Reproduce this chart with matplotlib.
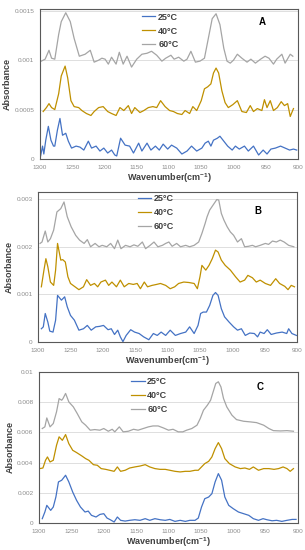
import matplotlib
matplotlib.use("Agg")
import matplotlib.pyplot as plt
from matplotlib.ticker import FuncFormatter

plt.rcParams['font.family'] = ['Liberation Sans', 'DejaVu Sans']
plt.rcParams['mathtext.default'] = 'regular'

# ---- Panel A ----
a25_wn = [1299, 1296, 1294, 1291, 1287, 1283, 1279, 1277, 1273, 1269, 1265, 1260, 1256, 1251, 1244,
          1238, 1232, 1225, 1220, 1213, 1207, 1201, 1195, 1189, 1184, 1181, 1175, 1168, 1161, 1155,
          1147, 1142, 1134, 1128, 1121, 1115, 1109, 1102, 1096, 1088, 1080, 1072, 1065, 1057, 1049,
          1044, 1039, 1035, 1031, 1025, 1021, 1015, 1009, 1002, 997, 991, 983, 977, 969, 961,
          954, 948, 942, 935, 927, 920, 913, 907, 902]
a25_abs = [0.3e-4, 1.3e-4, 0.5e-4, 1.9e-4, 3.3e-4, 1.9e-4, 1.3e-4, 1.3e-4, 2.9e-4, 4.1e-4, 2.4e-4, 2.6e-4, 1.8e-4, 1.1e-4, 1.3e-4,
           1.2e-4, 0.9e-4, 1.8e-4, 1.1e-4, 1.3e-4, 0.8e-4, 1.1e-4, 0.6e-4, 0.9e-4, 0.4e-4, 0.3e-4, 2.1e-4, 1.4e-4, 1.3e-4, 0.6e-4,
           1.6e-4, 0.8e-4, 1.6e-4, 0.9e-4, 1.3e-4, 0.9e-4, 1.5e-4, 1.0e-4, 1.4e-4, 1.1e-4, 0.5e-4, 0.8e-4, 1.3e-4, 0.8e-4, 1.1e-4,
           1.6e-4, 1.8e-4, 1.3e-4, 1.9e-4, 2.1e-4, 2.3e-4, 1.8e-4, 1.3e-4, 0.9e-4, 1.3e-4, 1.0e-4, 1.3e-4, 0.8e-4, 1.3e-4, 0.4e-4,
           0.9e-4, 0.5e-4, 1.0e-4, 1.1e-4, 1.3e-4, 1.1e-4, 0.9e-4, 1.0e-4, 0.9e-4]
a40_wn = [1295, 1290, 1286, 1282, 1277, 1271, 1267, 1261, 1257, 1252, 1247, 1240, 1235, 1228, 1221,
          1216, 1209, 1202, 1195, 1189, 1182, 1176, 1170, 1163, 1158, 1153, 1145, 1139, 1132, 1125,
          1119, 1113, 1106, 1099, 1093, 1087, 1080, 1075, 1068, 1063, 1057, 1050, 1045, 1040, 1035,
          1031, 1027, 1023, 1018, 1013, 1008, 1001, 994, 987, 980, 974, 969, 963, 956, 952,
          948, 943, 938, 932, 926, 921, 916, 912, 907]
a40_abs = [4.8e-4, 5.2e-4, 5.6e-4, 5.2e-4, 5.0e-4, 6.6e-4, 8.4e-4, 9.4e-4, 8.2e-4, 5.9e-4, 5.3e-4, 5.2e-4, 4.9e-4, 4.6e-4, 4.4e-4,
           4.8e-4, 5.2e-4, 5.3e-4, 4.8e-4, 4.6e-4, 4.4e-4, 5.2e-4, 4.9e-4, 5.4e-4, 4.6e-4, 5.2e-4, 4.7e-4, 4.9e-4, 5.2e-4, 5.3e-4,
           5.2e-4, 5.9e-4, 5.3e-4, 4.9e-4, 4.8e-4, 4.6e-4, 4.5e-4, 4.9e-4, 4.6e-4, 5.3e-4, 4.9e-4, 5.9e-4, 7.1e-4, 7.3e-4, 7.6e-4,
           8.7e-4, 9.2e-4, 8.7e-4, 6.9e-4, 5.7e-4, 5.2e-4, 5.5e-4, 5.9e-4, 4.8e-4, 4.7e-4, 5.4e-4, 4.8e-4, 5.1e-4, 4.9e-4, 6.0e-4,
           5.2e-4, 5.9e-4, 4.9e-4, 5.2e-4, 5.8e-4, 5.4e-4, 5.6e-4, 4.3e-4, 5.1e-4]
a60_wn = [1298, 1292, 1286, 1282, 1277, 1271, 1267, 1260, 1253, 1247, 1239, 1230, 1222, 1216, 1209,
          1204, 1199, 1194, 1189, 1182, 1177, 1171, 1165, 1158, 1150, 1142, 1134, 1127, 1119, 1111,
          1105, 1097, 1092, 1085, 1077, 1072, 1066, 1059, 1052, 1045, 1039, 1033, 1027, 1021, 1015,
          1010, 1005, 1000, 994, 987, 979, 973, 966, 958, 951, 945, 938, 933, 925, 920,
          912, 908]
a60_abs = [9.9e-4, 10.1e-4, 11.0e-4, 10.2e-4, 10.1e-4, 12.6e-4, 13.9e-4, 14.8e-4, 13.9e-4, 12.2e-4, 10.4e-4, 10.6e-4, 11.0e-4, 9.8e-4, 10.0e-4,
           10.2e-4, 10.1e-4, 9.6e-4, 10.3e-4, 9.6e-4, 10.8e-4, 9.6e-4, 10.4e-4, 9.3e-4, 10.1e-4, 10.6e-4, 10.7e-4, 10.9e-4, 10.5e-4, 9.9e-4,
           10.2e-4, 10.5e-4, 10.1e-4, 10.3e-4, 9.9e-4, 10.1e-4, 10.9e-4, 9.8e-4, 9.9e-4, 10.2e-4, 12.2e-4, 14.2e-4, 14.7e-4, 13.6e-4, 11.2e-4,
           9.9e-4, 9.7e-4, 10.0e-4, 10.6e-4, 10.2e-4, 9.8e-4, 10.1e-4, 9.7e-4, 10.1e-4, 10.4e-4, 10.2e-4, 9.6e-4, 10.1e-4, 10.6e-4, 9.7e-4,
           10.6e-4, 10.4e-4]

# ---- Panel B ----
b25_wn = [1295, 1292, 1289, 1285, 1282, 1277, 1273, 1270, 1264, 1259, 1255, 1250, 1244, 1237, 1230,
          1224, 1218, 1211, 1205, 1199, 1192, 1187, 1182, 1177, 1173, 1169, 1164, 1157, 1151, 1144,
          1137, 1129, 1122, 1116, 1110, 1103, 1096, 1088, 1080, 1072, 1066, 1059, 1053, 1049, 1045,
          1040, 1035, 1030, 1026, 1022, 1017, 1012, 1005, 998, 992, 986, 980, 973, 966, 961,
          957, 951, 946, 940, 932, 923, 916, 913, 908, 901]
b25_abs = [0.28e-3, 0.32e-3, 0.60e-3, 0.42e-3, 0.23e-3, 0.21e-3, 0.46e-3, 0.98e-3, 0.88e-3, 0.95e-3, 0.74e-3, 0.56e-3, 0.46e-3, 0.25e-3, 0.28e-3,
           0.35e-3, 0.25e-3, 0.32e-3, 0.33e-3, 0.35e-3, 0.26e-3, 0.28e-3, 0.16e-3, 0.25e-3, 0.11e-3, 0.01e-3, 0.14e-3, 0.26e-3, 0.21e-3, 0.18e-3,
           0.11e-3, 0.05e-3, 0.18e-3, 0.14e-3, 0.21e-3, 0.14e-3, 0.25e-3, 0.14e-3, 0.18e-3, 0.21e-3, 0.32e-3, 0.18e-3, 0.35e-3, 0.60e-3, 0.63e-3,
           0.63e-3, 0.77e-3, 0.98e-3, 1.04e-3, 0.98e-3, 0.70e-3, 0.53e-3, 0.42e-3, 0.32e-3, 0.25e-3, 0.28e-3, 0.14e-3, 0.19e-3, 0.18e-3, 0.11e-3,
           0.21e-3, 0.18e-3, 0.26e-3, 0.16e-3, 0.19e-3, 0.21e-3, 0.18e-3, 0.28e-3, 0.18e-3, 0.14e-3]
b40_wn = [1295, 1291, 1288, 1285, 1281, 1276, 1273, 1270, 1265, 1262, 1258, 1254, 1250, 1244, 1237,
          1230, 1225, 1219, 1213, 1208, 1203, 1196, 1191, 1186, 1179, 1173, 1167, 1160, 1153, 1147,
          1142, 1136, 1131, 1124, 1117, 1111, 1103, 1096, 1089, 1083, 1075, 1067, 1059, 1054, 1050,
          1047, 1041, 1036, 1031, 1026, 1022, 1017, 1011, 1003, 995, 988, 981, 976, 969, 963,
          957, 949, 941, 933, 927, 919, 914, 909, 904]
b40_abs = [1.16e-3, 1.51e-3, 1.75e-3, 1.58e-3, 1.26e-3, 1.19e-3, 1.51e-3, 2.07e-3, 1.72e-3, 1.73e-3, 1.68e-3, 1.37e-3, 1.23e-3, 1.17e-3, 1.10e-3,
           1.16e-3, 1.31e-3, 1.19e-3, 1.23e-3, 1.16e-3, 1.26e-3, 1.30e-3, 1.19e-3, 1.26e-3, 1.16e-3, 1.30e-3, 1.16e-3, 1.23e-3, 1.21e-3, 1.23e-3,
           1.12e-3, 1.26e-3, 1.16e-3, 1.19e-3, 1.21e-3, 1.23e-3, 1.19e-3, 1.12e-3, 1.16e-3, 1.23e-3, 1.26e-3, 1.25e-3, 1.23e-3, 1.12e-3, 1.37e-3,
           1.61e-3, 1.51e-3, 1.61e-3, 1.75e-3, 1.93e-3, 1.89e-3, 1.72e-3, 1.61e-3, 1.51e-3, 1.37e-3, 1.26e-3, 1.30e-3, 1.40e-3, 1.35e-3, 1.26e-3,
           1.30e-3, 1.23e-3, 1.19e-3, 1.33e-3, 1.23e-3, 1.17e-3, 1.10e-3, 1.19e-3, 1.16e-3]
b60_wn = [1297, 1294, 1291, 1289, 1285, 1281, 1276, 1271, 1265, 1260, 1255, 1249, 1242, 1236, 1229,
          1224, 1219, 1212, 1206, 1201, 1194, 1188, 1182, 1177, 1172, 1165, 1158, 1152, 1146, 1139,
          1134, 1127, 1121, 1115, 1108, 1103, 1098, 1093, 1086, 1080, 1072, 1066, 1059, 1052, 1047,
          1042, 1039, 1035, 1030, 1024, 1021, 1017, 1013, 1008, 1003, 998, 992, 986, 981, 975,
          969, 964, 957, 949, 944, 938, 932, 926, 920, 913, 905]
b60_abs = [2.07e-3, 2.10e-3, 2.24e-3, 2.33e-3, 2.10e-3, 2.17e-3, 2.35e-3, 2.73e-3, 2.80e-3, 2.94e-3, 2.63e-3, 2.42e-3, 2.24e-3, 2.14e-3, 2.07e-3,
           2.15e-3, 2.00e-3, 2.07e-3, 2.00e-3, 2.03e-3, 2.00e-3, 2.07e-3, 1.96e-3, 2.14e-3, 1.96e-3, 2.03e-3, 2.00e-3, 2.04e-3, 2.01e-3, 2.10e-3,
           1.96e-3, 2.03e-3, 2.10e-3, 2.00e-3, 2.03e-3, 2.07e-3, 2.10e-3, 2.01e-3, 2.07e-3, 2.00e-3, 2.03e-3, 2.00e-3, 2.03e-3, 2.10e-3, 2.28e-3,
           2.49e-3, 2.63e-3, 2.77e-3, 2.87e-3, 2.99e-3, 2.98e-3, 2.70e-3, 2.56e-3, 2.42e-3, 2.31e-3, 2.24e-3, 2.10e-3, 2.17e-3, 2.00e-3, 2.01e-3,
           2.03e-3, 2.00e-3, 2.03e-3, 2.07e-3, 2.05e-3, 2.12e-3, 2.10e-3, 2.14e-3, 2.10e-3, 2.03e-3, 2.00e-3]

# ---- Panel C ----
c25_wn = [1295, 1291, 1288, 1282, 1278, 1274, 1270, 1265, 1263, 1259, 1254, 1248, 1242, 1236, 1229,
          1224, 1219, 1212, 1206, 1200, 1195, 1190, 1184, 1179, 1174, 1167, 1160, 1152, 1144, 1136,
          1129, 1121, 1113, 1105, 1098, 1090, 1082, 1074, 1067, 1059, 1054, 1049, 1044, 1038, 1033,
          1028, 1023, 1018, 1013, 1007, 1000, 992, 984, 976, 969, 961, 954, 948, 940, 933,
          925, 917, 909, 903]
c25_abs = [0.29e-3, 0.73e-3, 1.17e-3, 0.84e-3, 1.06e-3, 1.72e-3, 2.72e-3, 2.83e-3, 2.94e-3, 3.16e-3, 2.72e-3, 2.05e-3, 1.50e-3, 1.06e-3, 0.73e-3,
           0.79e-3, 0.51e-3, 0.40e-3, 0.57e-3, 0.62e-3, 0.33e-3, 0.22e-3, 0.07e-3, 0.40e-3, 0.18e-3, 0.13e-3, 0.18e-3, 0.22e-3, 0.18e-3, 0.29e-3,
           0.18e-3, 0.29e-3, 0.22e-3, 0.18e-3, 0.24e-3, 0.11e-3, 0.18e-3, 0.11e-3, 0.18e-3, 0.18e-3, 0.33e-3, 1.06e-3, 1.61e-3, 1.72e-3, 1.94e-3,
           2.72e-3, 3.27e-3, 2.83e-3, 1.72e-3, 1.17e-3, 0.95e-3, 0.73e-3, 0.62e-3, 0.51e-3, 0.29e-3, 0.18e-3, 0.29e-3, 0.22e-3, 0.15e-3, 0.18e-3,
           0.11e-3, 0.18e-3, 0.24e-3, 0.24e-3]
c40_wn = [1299, 1294, 1290, 1287, 1283, 1278, 1273, 1269, 1264, 1259, 1254, 1248, 1242, 1234, 1228,
          1223, 1216, 1210, 1204, 1197, 1191, 1184, 1179, 1174, 1167, 1160, 1152, 1144, 1136, 1129,
          1121, 1113, 1105, 1098, 1090, 1082, 1074, 1067, 1059, 1054, 1049, 1044, 1038, 1033, 1028,
          1023, 1018, 1013, 1006, 997, 989, 982, 975, 969, 961, 953, 945, 937, 930, 923,
          917, 912, 907]
c40_abs = [3.60e-3, 3.64e-3, 4.15e-3, 4.37e-3, 4.04e-3, 4.15e-3, 5.14e-3, 5.70e-3, 5.47e-3, 5.85e-3, 5.25e-3, 4.81e-3, 4.66e-3, 4.44e-3, 4.26e-3,
           4.15e-3, 3.86e-3, 3.82e-3, 3.60e-3, 3.55e-3, 3.49e-3, 3.42e-3, 3.71e-3, 3.42e-3, 3.49e-3, 3.64e-3, 3.71e-3, 3.77e-3, 3.86e-3, 3.71e-3,
           3.60e-3, 3.55e-3, 3.55e-3, 3.49e-3, 3.42e-3, 3.38e-3, 3.42e-3, 3.42e-3, 3.49e-3, 3.49e-3, 3.71e-3, 3.93e-3, 4.08e-3, 4.37e-3, 4.92e-3,
           5.32e-3, 4.92e-3, 4.26e-3, 3.93e-3, 3.71e-3, 3.60e-3, 3.64e-3, 3.55e-3, 3.71e-3, 3.49e-3, 3.60e-3, 3.60e-3, 3.55e-3, 3.60e-3, 3.71e-3,
           3.60e-3, 3.42e-3, 3.60e-3]
c60_wn = [1295, 1291, 1288, 1283, 1278, 1273, 1269, 1265, 1263, 1259, 1254, 1247, 1241, 1234, 1228,
          1221, 1214, 1206, 1200, 1193, 1187, 1183, 1176, 1170, 1162, 1154, 1147, 1139, 1131, 1124,
          1116, 1108, 1100, 1093, 1085, 1078, 1072, 1064, 1056, 1051, 1046, 1040, 1035, 1031, 1027,
          1023, 1019, 1015, 1010, 1002, 995, 984, 974, 964, 953, 945, 938, 927, 917, 907]
c60_abs = [6.25e-3, 6.36e-3, 6.95e-3, 6.36e-3, 6.58e-3, 7.35e-3, 8.23e-3, 8.12e-3, 8.23e-3, 8.57e-3, 8.01e-3, 7.68e-3, 7.24e-3, 6.69e-3, 6.47e-3,
           6.14e-3, 6.18e-3, 6.14e-3, 6.25e-3, 6.07e-3, 6.20e-3, 6.03e-3, 6.36e-3, 6.03e-3, 6.07e-3, 6.20e-3, 6.14e-3, 6.25e-3, 6.36e-3, 6.42e-3,
           6.42e-3, 6.29e-3, 6.14e-3, 6.20e-3, 6.03e-3, 6.03e-3, 6.14e-3, 6.25e-3, 6.47e-3, 6.91e-3, 7.46e-3, 7.79e-3, 8.12e-3, 8.68e-3, 9.23e-3,
           9.34e-3, 9.00e-3, 8.23e-3, 7.68e-3, 7.13e-3, 6.84e-3, 6.73e-3, 6.69e-3, 6.64e-3, 6.47e-3, 6.25e-3, 6.11e-3, 6.09e-3, 6.11e-3, 6.07e-3]

series_labels = ['25°C', '40°C', '60°C']
series_colors = ['#4472C4', '#BF9000', '#A5A5A5']
x_ticks = [1300, 1250, 1200, 1150, 1100, 1050, 1000, 950, 900]

a_yticks = [0, 0.0005, 0.001, 0.0015]
b_yticks = [0, 0.001, 0.002, 0.003]
c_yticks = [0, 0.002, 0.004, 0.006, 0.008, 0.01]

panels = [
    dict(rect=[0.131, 0.711, 0.846, 0.273], ylim=(0, 0.00152), yticks=a_yticks, letter='A',
         data=[(a25_wn, a25_abs), (a40_wn, a40_abs), (a60_wn, a60_abs)],
         leg=(0.395, 0.975), letter_xy=(0.86, 0.913)),
    dict(rect=[0.125, 0.378, 0.849, 0.273], ylim=(0, 0.00315), yticks=b_yticks, letter='B',
         data=[(b25_wn, b25_abs), (b40_wn, b40_abs), (b60_wn, b60_abs)],
         leg=(0.385, 0.985), letter_xy=(0.85, 0.873)),
    dict(rect=[0.128, 0.049, 0.849, 0.275], ylim=(0, 0.01), yticks=c_yticks, letter='C',
         data=[(c25_wn, c25_abs), (c40_wn, c40_abs), (c60_wn, c60_abs)],
         leg=(0.355, 0.965), letter_xy=(0.853, 0.90)),
]

fig = plt.figure(figsize=(3.05, 5.5), dpi=100)

for p in panels:
    ax = fig.add_axes(p['rect'])
    for (wn, ab), lab, col in zip(p['data'], series_labels, series_colors):
        ax.plot(wn, ab, color=col, lw=0.9, label=lab)
    ax.set_xlim(1300, 900)
    ax.set_ylim(*p['ylim'])
    ax.set_xticks(x_ticks)
    ax.set_yticks(p['yticks'])
    ax.yaxis.set_major_formatter(FuncFormatter(lambda v, _: '0' if v == 0 else '%g' % v))
    ax.grid(axis='y', color='#D9D9D9', lw=0.6)
    ax.set_axisbelow(True)
    for s in ax.spines.values():
        s.set_color('#595959')
        s.set_linewidth(0.8)
    ax.tick_params(length=0, labelsize=4.6, labelcolor='#8C8C8C', pad=4)
    ax.set_xlabel('Wavenumber(cm$^{-1}$)', fontsize=6.5, fontweight='bold', color='#404040', labelpad=1)
    ax.set_ylabel('Absorbance', fontsize=6.5, fontweight='bold', color='#404040', labelpad=2)
    leg = ax.legend(loc='upper left', bbox_to_anchor=p['leg'], frameon=False,
                    prop={'size': 6.5, 'weight': 'bold'},
                    handlelength=1.5, handletextpad=0.3, labelspacing=0.55,
                    borderpad=0, borderaxespad=0)
    for t in leg.get_texts():
        t.set_color('#404040')
    ax.text(p['letter_xy'][0], p['letter_xy'][1], p['letter'], transform=ax.transAxes,
            fontsize=7, fontweight='bold', ha='center', va='center')

fig.savefig('out.png', dpi=100)
